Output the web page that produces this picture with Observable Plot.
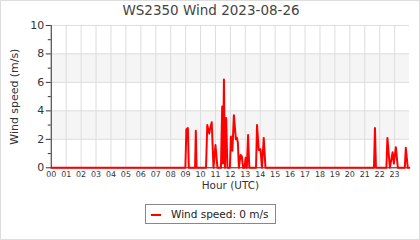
<!DOCTYPE html>
<html>
<head>
<meta charset="utf-8">
<script src="https://cdn.jsdelivr.net/npm/d3@7"></script>
<script src="https://cdn.jsdelivr.net/npm/@observablehq/plot@0.6"></script>
<style>
  html, body { margin: 0; padding: 0; background: #fff; }
  #wrap { position: relative; width: 420px; height: 240px; box-sizing: border-box; border: 1px solid #ddd; overflow: hidden; font-family: "DejaVu Sans", sans-serif; }
  #title { position: absolute; left: 0; top: 0px; width: 420px; text-align: center; font-size: 13.5px; line-height: 18px; color: #444; }
  #chart { position: absolute; left: -1px; top: 19px; }
  #legend { position: absolute; left: 144px; top: 203px; width: 131px; height: 20px; box-sizing: border-box; border: 1px solid #888; font-size: 10.5px; color: #222; }
  #legend .sw { position: absolute; left: 5px; top: 9px; width: 10px; height: 2px; background: red; }
  #legend .tx { position: absolute; left: 25px; top: 3px; line-height: 12px; white-space: nowrap; }
</style>
</head>
<body>
<div id="wrap">
  <div id="title">WS2350 Wind 2023-08-26</div>
  <div id="chart"></div>
  <div id="legend"><span class="sw"></span><span class="tx">Wind speed: 0 m/s</span></div>
</div>
<script>
const day = "2023-08-26";
const times = ["00:00","08:59","09:03","09:09","09:13","09:38","09:41","09:44",
  "10:22","10:27","10:35","10:39","10:45","10:52","11:00","11:08",
  "11:22","11:27","11:30","11:34","11:38","11:43","11:48",
  "11:58","12:02","12:08","12:14","12:22","12:26","12:30","12:34","12:41","12:46","12:51",
  "12:57","13:01","13:06","13:11","13:16",
  "13:43","13:47","13:54","14:01","14:07","14:14","14:21",
  "21:37","21:41","21:45","22:27","22:31","22:41","22:52","22:57","23:05","23:13",
  "23:41","23:45","23:53","23:59"];
const speeds = [0,0,2.7,2.8,0,0,2.6,0,
  0,3.0,2.4,2.8,3.2,0,1.6,0,
  0,4.3,0.3,6.2,0,3.5,0,
  0,2.2,1.2,3.7,2.0,2.1,1.8,0,0.9,0.8,0,
  0,0.7,0,2.3,0,
  0,3.0,1.25,1.3,0,2.1,0,
  0,2.8,0,0,2.1,0,1.1,0.3,1.45,0,
  0,1.4,0,0];
const hourLabels = ["00","01","02","03","04","05","06","07","08","09","10","11",
  "12","13","14","15","16","17","18","19","20","21","22","23"];
const yTicks = [0,2,4,6,8,10];
const yMinor = [1,3,5,7,9];
const bands = [[2,4],[6,8]];

const start = new Date(`${day}T00:00:00Z`);
const end = new Date("2023-08-27T00:00:00Z");
const data = times.map((t, i) => ({date: new Date(`${day}T${t}:00Z`), speed: speeds[i]}));
const hourTicks = hourLabels.map(h => new Date(`${day}T${h}:00:00Z`));
const fmt = d3.utcFormat("%H");

const chart = Plot.plot({
  width: 421, height: 180,
  marginTop: 5, marginBottom: 32, marginLeft: 51, marginRight: 10,
  style: {fontFamily: "DejaVu Sans", fontSize: "10px", color: "#333", background: "transparent"},
  x: {type: "utc", domain: [start, end]},
  y: {domain: [0, 10]},
  marks: [
    Plot.rect(bands, {x1: () => start, x2: () => end, y1: d => d[0], y2: d => d[1], fill: "#f5f5f5"}),
    Plot.gridY(yTicks, {stroke: "#ddd", strokeOpacity: 1}),
    Plot.gridX(hourTicks, {stroke: "#ddd", strokeOpacity: 1}),
    Plot.axisY(yTicks, {tickSize: 5, tickPadding: 2, fontSize: 11, label: null, stroke: "#333"}),
    Plot.axisY(yMinor, {tickSize: 3, tickFormat: () => "", label: null, stroke: "#333"}),
    Plot.axisX(hourTicks, {tickSize: 0, tickPadding: 4, fontSize: 8, tickFormat: d => fmt(d), label: null}),
    Plot.ruleX([start], {stroke: "#333"}),
    Plot.ruleY([0], {stroke: "#333"}),
    Plot.line(data, {x: "date", y: "speed", stroke: "red", strokeWidth: 2}),
    Plot.text(["Wind speed (m/s)"], {frameAnchor: "left", textAnchor: "middle", rotate: -90, dx: -37, fontSize: 11, fill: "#333"}),
    Plot.text(["Hour (UTC)"], {frameAnchor: "bottom", dy: 21, fontSize: 10.5, fill: "#333"})
  ]
});
document.getElementById("chart").appendChild(chart);
</script>
</body>
</html>
